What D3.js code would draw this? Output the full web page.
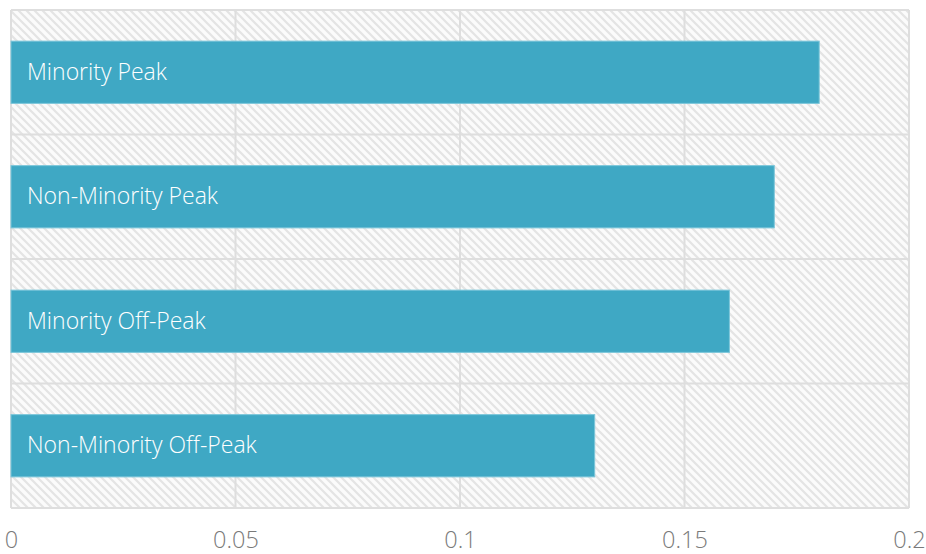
<!DOCTYPE html>
<html>
<head>
<meta charset="utf-8">
<script src="https://cdn.jsdelivr.net/npm/d3@7"></script>
<style>
  html, body { margin: 0; padding: 0; background: #fff; }
  svg { display: block; }
  text { font-family: "Open Sans", "Noto Sans", sans-serif; }
</style>
</head>
<body>
<svg id="chart" width="926" height="554"></svg>
<script>
// Chart data
const categories = ["Minority Peak", "Non-Minority Peak", "Minority Off-Peak", "Non-Minority Off-Peak"];
const values = [0.18, 0.17, 0.16, 0.13];
const tickValues = [0, 0.05, 0.1, 0.15, 0.2];
const tickLabels = ["0", "0.05", "0.1", "0.15", "0.2"];

const width = 926, height = 554;
const margin = { top: 10, right: 17, bottom: 46, left: 11 };

const svg = d3.select("#chart");

// Diagonal hatch fill for the plot background
const defs = svg.append("defs");
const pat = defs.append("pattern")
  .attr("id", "hatch")
  .attr("patternUnits", "userSpaceOnUse")
  .attr("width", 8).attr("height", 8);
pat.append("rect").attr("width", 8).attr("height", 8).attr("fill", "#fbfbfb");
pat.append("path")
  .attr("d", "M-2,-2 L10,10 M-2,6 L2,10 M6,-2 L10,2")
  .attr("stroke", "#e4e4e4")
  .attr("stroke-width", 2.2);

const x = d3.scaleLinear()
  .domain([0, 0.2])
  .range([margin.left, width - margin.right]);

const y = d3.scaleBand()
  .domain(categories)
  .range([margin.top, height - margin.bottom])
  .paddingInner(0)
  .paddingOuter(0);

const barPad = 0.5; // fraction of each band left empty

// Plot background
svg.append("rect")
  .attr("x", x(0)).attr("y", y.range()[0])
  .attr("width", x(0.2) - x(0))
  .attr("height", y.range()[1] - y.range()[0])
  .attr("fill", "url(#hatch)");

// Vertical grid lines
svg.append("g")
  .selectAll("line")
  .data(tickValues)
  .join("line")
  .attr("x1", d => x(d)).attr("x2", d => x(d))
  .attr("y1", y.range()[0]).attr("y2", y.range()[1])
  .attr("stroke", "#dedede")
  .attr("stroke-width", 2);

// Horizontal band separators
svg.append("g")
  .selectAll("line")
  .data(categories)
  .join("line")
  .attr("x1", x(0)).attr("x2", x(0.2))
  .attr("y1", d => y(d) + y.bandwidth())
  .attr("y2", d => y(d) + y.bandwidth())
  .attr("stroke", "#dedede")
  .attr("stroke-width", 2);

// Top border
svg.append("line")
  .attr("x1", x(0)).attr("x2", x(0.2))
  .attr("y1", y.range()[0]).attr("y2", y.range()[0])
  .attr("stroke", "#dedede").attr("stroke-width", 2);

// Bars
const barH = y.bandwidth() * (1 - barPad);
svg.append("g")
  .selectAll("rect")
  .data(categories)
  .join("rect")
  .attr("x", x(0))
  .attr("y", d => y(d) + (y.bandwidth() - barH) / 2)
  .attr("width", (d, i) => x(values[i]) - x(0))
  .attr("height", barH)
  .attr("fill", "#3fa8c4")
  .attr("stroke", "#7cc6da")
  .attr("stroke-width", 1);

// Category labels inside bars
svg.append("g")
  .selectAll("text")
  .data(categories)
  .join("text")
  .attr("x", x(0) + 16)
  .attr("y", d => y(d) + y.bandwidth() / 2)
  .attr("dy", "0.33em")
  .attr("fill", "#ffffff")
  .attr("font-size", 23)
  .attr("font-weight", 300)
  .text(d => d);

// X axis
const axis = d3.axisBottom(x)
  .tickValues(tickValues)
  .tickFormat((d, i) => tickLabels[i])
  .tickSize(0)
  .tickPadding(23);

const gx = svg.append("g")
  .attr("transform", `translate(0,${y.range()[1]})`)
  .call(axis);
gx.select(".domain").remove();
gx.selectAll("text")
  .attr("fill", "#7a7a7a")
  .attr("font-size", 23.5)
  .attr("font-weight", 300)
  .style("font-family", '"Open Sans", "Noto Sans", sans-serif');
</script>
</body>
</html>
